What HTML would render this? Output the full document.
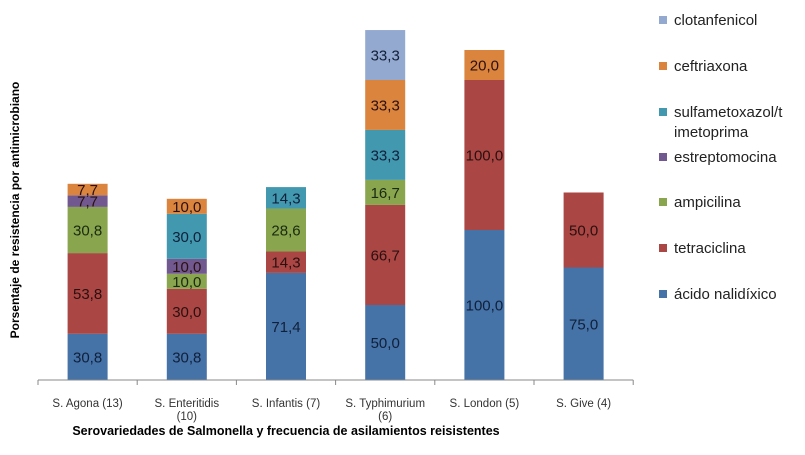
<!DOCTYPE html>
<html><head><meta charset="utf-8"><style>
body{margin:0;background:#fff;}
svg text{font-family:"Liberation Sans",sans-serif;}
</style></head><body>
<svg id="chart" width="805" height="450">
<g id="bars"></g>
<g id="axis"></g>
<g id="legend"></g>
<text transform="translate(19,210) rotate(-90)" text-anchor="middle" font-size="12" font-weight="bold">Porsentaje de resistencia  por antimicrobiano</text>
<text x="286" y="435" text-anchor="middle" font-size="12.5" font-weight="bold">Serovariedades de Salmonella y frecuencia de asilamientos  reisistentes</text>
</svg>
<script>
const categories=["S. Agona (13)","S. Enteritidis|(10)","S. Infantis (7)","S. Typhimurium|(6)","S. London (5)","S. Give (4)"];
const seriesNames=["ácido nalidíxico","tetraciclina","ampicilina","estreptomocina","sulfametoxazol/t|imetoprima","ceftriaxona","clotanfenicol"];
const acidoNalidixico=[30.8,30.8,71.4,50.0,100.0,75.0];
const tetraciclina=[53.8,30.0,14.3,66.7,100.0,50.0];
const ampicilina=[30.8,10.0,28.6,16.7,0,0];
const estreptomocina=[7.7,10.0,0,0,0,0];
const sulfametoxazol=[0,30.0,14.3,33.3,0,0];
const ceftriaxona=[7.7,10.0,0,33.3,20.0,0];
const clotanfenicol=[0,0,0,33.3,0,0];
const valueLabels=[["30,8","30,8","71,4","50,0","100,0","75,0"],["53,8","30,0","14,3","66,7","100,0","50,0"],["30,8","10,0","28,6","16,7","",""],["7,7","10,0","","","",""],["","30,0","14,3","33,3","",""],["7,7","10,0","","33,3","20,0",""],["","","","33,3","",""]];
const series=[acidoNalidixico,tetraciclina,ampicilina,estreptomocina,sulfametoxazol,ceftriaxona,clotanfenicol];
const colors=["#4572A7","#AA4643","#89A54E","#71588F","#4198AF","#DB843D","#93A9CF"];
const NS="http://www.w3.org/2000/svg";
const x0=38,catW=99.2,barW=40,base=380,k=1.5;
const xc=i=>x0+catW*(i+0.5);
const y=v=>base-v*k;
function mk(t,a,p){const e=document.createElementNS(NS,t);for(const q in a)e.setAttribute(q,a[q]);p.appendChild(e);return e;}
const bars=document.getElementById('bars');
categories.forEach((c,i)=>{let cum=0;series.forEach((s,j)=>{const v=s[i];if(!v)return;
const r=mk('rect',{x:xc(i)-barW/2,y:y(cum+v),width:barW,height:v*k,fill:colors[j]},bars);


const lab=valueLabels[j][i];
if(lab){const t=mk('text',{x:xc(i),y:y(cum+v/2)+5.5,'text-anchor':'middle','font-size':'15',fill:j==2?'#1a2a10':(j==0||j==4||j==6)?'#10203a':'#2a1010'},bars);t.textContent=lab;

}
cum+=v;});});
const ax=document.getElementById('axis');
mk('line',{x1:x0,y1:base,x2:x0+catW*6,y2:base,stroke:'#888'},ax);
for(let i=0;i<=6;i++)mk('line',{x1:x0+catW*i,y1:base,x2:x0+catW*i,y2:base+5,stroke:'#888'},ax);
categories.forEach((c,i)=>{c.split('|').forEach((ln,l)=>{const t=mk('text',{x:xc(i),y:407+l*13,'text-anchor':'middle','font-size':'11.5',fill:'#333'},ax);t.textContent=ln;

});});
const lg=document.getElementById('legend');
const ly=[25,71,117,162,207,253,299];
for(let j=6;j>=0;j--){const yy=ly[6-j];
const g=mk('g',{},lg);


mk('rect',{x:659,y:yy-9,width:8,height:8,fill:colors[j]},g);
seriesNames[j].split('|').forEach((ln,l)=>{const t=mk('text',{x:674,y:yy+l*20,'font-size':'15',fill:'#222'},g);t.textContent=ln;});}
</script>
</body></html>
